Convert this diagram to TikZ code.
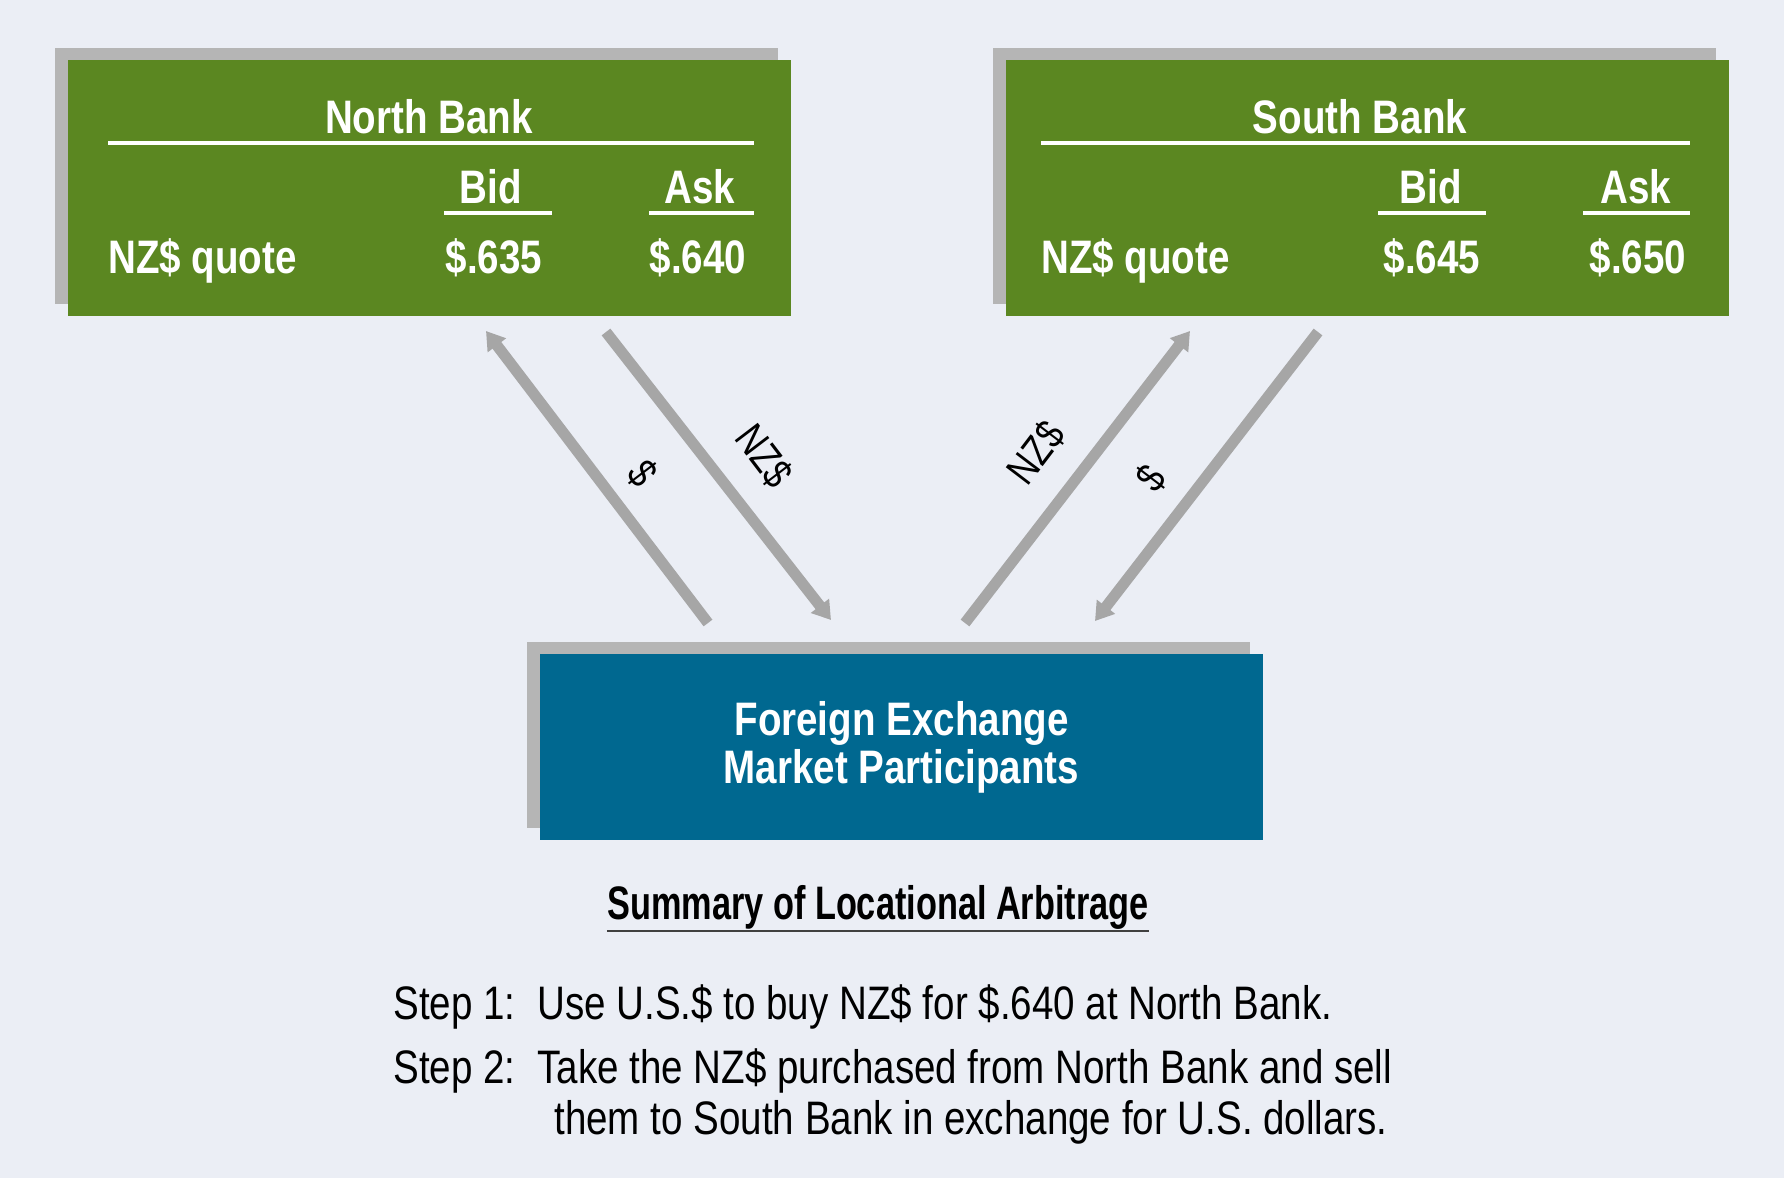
\documentclass[tikz,border=0pt]{standalone}
\usepackage{fontspec}
\setmainfont{Liberation Sans}[FakeStretch=0.82]
\usetikzlibrary{arrows.meta,shadows}

\definecolor{bankgreen}{HTML}{5B8721}
\definecolor{fxblue}{HTML}{006890}
\definecolor{shadowgray}{HTML}{B5B5B5}
\definecolor{bggray}{HTML}{EBEEF5}
\definecolor{flowgray}{HTML}{A6A6A6}

\tikzset{
  panel/.style={inner sep=0pt, minimum width=361.5pt, minimum height=128pt,
    drop shadow={shadow xshift=-6.5pt, shadow yshift=6pt, opacity=1, fill=shadowgray}},
  headtxt/.style={text=white, inner sep=0pt, font=\bfseries\fontsize{23.5}{24}\selectfont, anchor=base},
  tabrule/.style={white, line width=2.2pt},
  flow/.style={flowgray, line width=5.5pt, -{Triangle[width=11pt,length=9pt]}},
  flowtxt/.style={inner sep=0pt, font=\fontsize{21}{24}\selectfont},
  steptxt/.style={inner sep=0pt, font=\fontsize{23.5}{24}\selectfont, anchor=base west},
}

\begin{document}
\begin{tikzpicture}[x=0.5pt, y=-0.5pt]
    \fill[bggray] (0,0) rectangle (1784,1178);
    \useasboundingbox (0,0) rectangle (1784,1178);

    % bank quotes
    \node[panel, fill=bankgreen] (north) at (429.5,188) {};
    \node[panel, fill=bankgreen] (south) at (1367.5,188) {};

    \node[headtxt] (nhead) at (429,133) {North Bank};
    \draw[tabrule] (108,143) -- (754,143);
    \node[headtxt] (nbid) at (491,203) {Bid};
    \node[headtxt] (nask) at (700,203) {Ask};
    \draw[tabrule] (444,213) -- (552,213);
    \draw[tabrule] (649,213) -- (754,213);
    \node[headtxt, anchor=base west] (nquote) at (108,273) {NZ\$ quote};
    \node[headtxt] (nbidval) at (494,273) {\$.635};
    \node[headtxt] (naskval) at (698,273) {\$.640};

    \node[headtxt] (shead) at (1360,133) {South Bank};
    \draw[tabrule] (1041,143) -- (1690,143);
    \node[headtxt] (sbid) at (1431,203) {Bid};
    \node[headtxt] (sask) at (1636,203) {Ask};
    \draw[tabrule] (1378,213) -- (1486,213);
    \draw[tabrule] (1583,213) -- (1690,213);
    \node[headtxt, anchor=base west] (squote) at (1041,273) {NZ\$ quote};
    \node[headtxt] (sbidval) at (1432,273) {\$.645};
    \node[headtxt] (saskval) at (1638,273) {\$.650};

    % market participants
    \node[panel, fill=fxblue, minimum height=93pt, align=center, text=white,
        font=\bfseries\fontsize{23.5}{24}\selectfont] (market) at (901.5,747)
        {Foreign Exchange\\Market Participants};

    % flows of money
    \coordinate (n1) at (708,623);  \coordinate (n2) at (486,331);
    \coordinate (n3) at (606,332);  \coordinate (n4) at (831,620);
    \coordinate (s1) at (965,623);  \coordinate (s2) at (1190,331);
    \coordinate (s3) at (1318,332); \coordinate (s4) at (1095,621);
    \draw[flow] (n1) -- (n2);
    \draw[flow] (n3) -- (n4);
    \draw[flow] (s1) -- (s2);
    \draw[flow] (s3) -- (s4);
    \node[flowtxt, rotate=-52.7] (usdn) at (643,474) {\$};
    \node[flowtxt, rotate=-52.7] (nzdn) at (764,456) {NZ\$};
    \node[flowtxt, rotate=52.7] (nzds) at (1036,453) {NZ\$};
    \node[flowtxt, rotate=52.7] (usds) at (1151,478) {\$};

    % summary
    \node[inner sep=0pt, font=\bfseries\fontsize{23.5}{24}\selectfont\addfontfeature{FakeStretch=0.73}, anchor=base]
        (summary) at (878,919) {Summary of Locational Arbitrage};
    \draw[black!75, line width=1.3pt] ([yshift=-6pt]summary.base west) -- ([yshift=-6pt]summary.base east);

    \node[steptxt] (step1) at (393,1019) {Step 1:};
    \node[steptxt] (step1txt) at (537,1019) {Use U.S.\$ to buy NZ\$ for \$.640 at North Bank.};
    \node[steptxt] (step2) at (393,1083) {Step 2:};
    \node[steptxt] (step2txt) at (537,1083) {Take the NZ\$ purchased from North Bank and sell};
    \node[steptxt] (step2more) at (554,1134) {them to South Bank in exchange for U.S. dollars.};
\end{tikzpicture}
\end{document}
